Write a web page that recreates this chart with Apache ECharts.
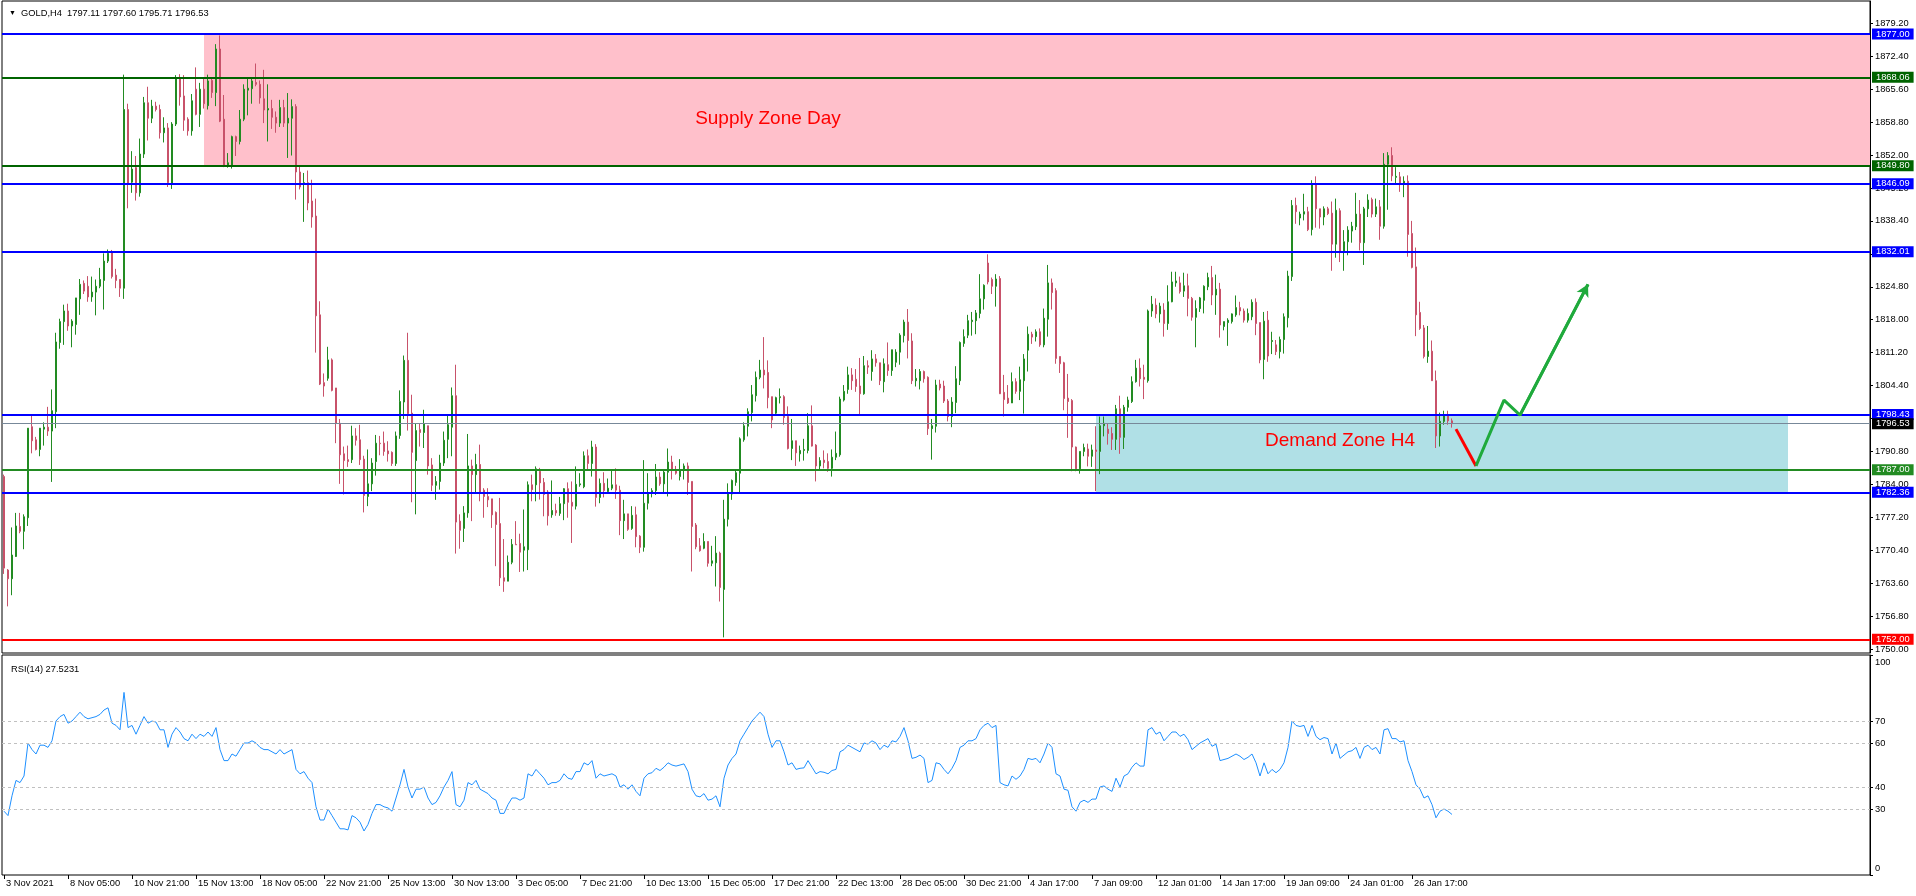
<!DOCTYPE html>
<html><head><meta charset="utf-8">
<script src="https://cdn.jsdelivr.net/npm/echarts@6/dist/echarts.min.js"></script>
<style>html,body{margin:0;padding:0;background:#fff}#c{width:1916px;height:896px}</style>
</head><body><div id="c"></div>
<script>
// ---------- DATA ----------
const opens=[1785.6,1766.3,1764.5,1769.1,1775.3,1774.3,1777.1,1795.9,1793.2,1791.2,1795.4,1795.8,1795.0,1799.0,1813.3,1817.6,1819.8,1816.7,1817.0,1822.3,1825.5,1824.9,1822.7,1823.7,1824.9,1826.1,1830.1,1831.9,1827.2,1826.3,
1824.5,1861.4,1846.4,1849.4,1844.2,1852.2,1862.8,1859.6,1862.1,1861.4,1856.6,1857.6,1846.2,1858.4,1868.0,1864.2,1859.4,1857.0,1865.6,1860.4,
1865.6,1862.2,1867.4,1864.9,1873.9,1859.4,1849.8,1849.8,1855.8,1854.8,1859.4,1865.4,1865.7,1867.0,1866.6,1863.6,1861.3,1861.6,1859.8,1858.6,
1861.8,1858.6,1859.6,1862.0,1848.5,1846.1,1846.3,1842.5,1839.4,1819.0,1805.0,1805.9,1809.7,1803.9,1796.6,1790.3,1789.1,1789.1,1794.0,1793.2,
1789.2,1781.5,1784.1,1788.7,1792.5,1792.5,1790.9,1790.6,1788.3,1794.1,1801.0,1809.6,1798.7,1788.9,1795.3,1794.7,1796.1,1788.0,1783.8,1784.6,
1788.4,1793.3,1795.8,1802.3,1776.4,1774.9,1778.1,1787.8,1786.0,1788.1,1782.8,1781.5,1781.0,1778.2,1775.9,1764.7,1764.0,1767.9,1771.6,1771.8,
1770.4,1770.5,1783.9,1783.9,1786.7,1784.4,1782.4,1777.7,1778.6,1778.0,1780.0,1783.1,1780.3,1779.5,1783.9,1783.5,1789.9,1788.3,1791.7,1781.3,
1784.2,1782.5,1783.2,1783.9,1782.8,1776.5,1777.9,1774.9,1777.7,1773.3,1771.0,1780.1,1782.4,1782.7,1785.5,1784.1,1786.5,1788.6,1787.0,1785.6,
1787.0,1787.8,1784.6,1775.6,1771.3,1770.8,1772.2,1767.7,1767.8,1769.8,1762.3,1776.8,1782.0,1784.4,1786.3,1793.2,1796.0,1798.8,1802.3,1806.1,
1807.6,1807.1,1802.1,1798.7,1801.9,1802.1,1798.0,1791.4,1793.0,1790.3,1791.0,1791.0,1796.1,1792.1,1787.8,1789.0,1788.7,1787.3,1789.6,1790.1,
1801.4,1803.6,1806.6,1805.7,1804.3,1802.7,1808.5,1807.3,1809.9,1809.1,1805.2,1808.7,1807.5,1809.2,1811.3,1814.7,1817.5,1813.6,1805.4,1805.4,
1807.3,1806.1,1795.5,1796.0,1804.7,1804.3,1801.2,1798.0,1800.9,1805.4,1813.1,1814.8,1817.6,1817.8,1819.3,1822.3,1829.7,1826.3,1824.9,1826.5,
1803.0,1801.8,1800.8,1805.2,1803.2,1805.4,1811.7,1815.0,1814.5,1815.5,1812.8,1818.1,1825.6,1824.0,1810.4,1809.1,1801.8,1801.3,1791.7,1787.2,
1790.8,1791.3,1789.8,1791.1,1790.8,1796.1,1795.4,1794.5,1793.3,1799.6,1793.7,1799.9,1801.1,1805.2,1808.0,1806.1,1805.4,1819.8,1821.0,1819.2,
1820.0,1817.2,1821.7,1825.6,1825.6,1823.9,1825.0,1822.4,1818.5,1820.3,1822.0,1824.8,1826.7,1823.1,1824.3,1816.6,1817.4,1817.6,1819.0,1820.5,
1819.8,1817.9,1818.6,1821.6,1817.4,1809.8,1817.9,1813.5,1812.8,1811.4,1813.9,1818.4,1826.9,1841.6,1839.0,1839.8,1840.3,1836.6,1845.9,1840.9,
1839.2,1840.9,1840.0,1833.6,1840.5,1832.0,1834.1,1836.3,1837.2,1839.8,1833.9,1840.9,1842.8,1839.8,1841.3,1837.3,1850.1,1851.9,1847.4,1847.5,
1846.1,1846.6,1835.8,1828.9,1819.5,1816.3,1810.4,1811.5,1805.4,1794.0,1797.0,1798.3,1797.11];
const highs=[1786.0,1766.5,1775.1,1778.1,1778.1,1777.8,1795.6,1798.3,1793.8,1795.6,1796.8,1800.0,1803.6,1815.3,1818.2,1821.1,1821.3,1818.1,1822.5,1826.4,1826.1,1827.0,1826.9,1826.3,1828.7,1831.7,1832.5,1832.4,1828.5,1826.3,
1868.6,1862.6,1852.8,1851.8,1855.4,1864.0,1866.1,1863.4,1863.0,1862.4,1859.8,1858.6,1858.8,1868.5,1868.7,1868.5,1859.8,1864.6,1870.1,1866.9,
1867.7,1868.6,1868.1,1874.9,1876.7,1864.4,1852.4,1856.0,1856.0,1861.3,1866.6,1867.8,1867.7,1870.9,1867.4,1869.6,1866.6,1863.4,1861.0,1863.4,
1863.4,1864.8,1863.5,1862.5,1849.9,1848.3,1848.8,1846.9,1843.0,1821.8,1806.9,1812.4,1810.0,1803.9,1797.5,1791.8,1792.0,1796.1,1795.6,1796.3,
1789.9,1791.2,1789.4,1794.2,1794.0,1794.9,1792.9,1790.8,1794.9,1803.4,1810.6,1815.3,1802.5,1796.6,1796.5,1799.4,1796.1,1789.4,1785.7,1790.1,
1794.9,1798.4,1804.0,1808.7,1777.8,1779.5,1794.4,1789.1,1790.3,1792.2,1783.2,1783.2,1781.0,1778.4,1781.2,1772.7,1769.3,1772.7,1776.4,1773.8,
1778.8,1784.6,1786.0,1787.7,1787.4,1785.3,1782.8,1784.8,1780.0,1781.4,1783.2,1784.4,1784.6,1787.7,1786.3,1790.8,1791.2,1793.0,1792.3,1785.2,
1786.5,1785.2,1787.0,1787.3,1783.7,1780.8,1777.9,1779.5,1779.4,1773.5,1789.0,1786.3,1783.2,1788.2,1786.5,1787.1,1791.4,1789.9,1787.8,1789.2,
1788.3,1788.5,1784.6,1776.0,1772.9,1773.9,1772.2,1771.3,1773.3,1770.1,1780.8,1784.2,1785.0,1787.0,1793.7,1796.8,1799.7,1804.5,1807.3,1809.7,
1814.4,1809.6,1802.1,1802.1,1803.8,1802.4,1800.1,1797.5,1793.0,1792.0,1793.4,1798.7,1800.3,1792.3,1789.6,1791.0,1790.4,1791.2,1794.9,1802.1,
1804.5,1808.3,1808.0,1807.8,1810.1,1810.5,1809.6,1811.7,1810.9,1809.1,1810.0,1813.3,1811.8,1811.9,1815.2,1818.0,1820.2,1815.2,1807.8,1807.8,
1807.5,1806.3,1797.5,1805.6,1805.6,1805.4,1801.6,1802.0,1808.4,1813.5,1816.0,1819.0,1819.6,1820.0,1827.4,1825.3,1831.5,1826.7,1827.4,1827.0,
1806.6,1804.5,1807.1,1805.9,1808.3,1810.9,1816.6,1815.5,1816.0,1816.2,1820.3,1829.3,1826.5,1824.5,1810.4,1809.3,1806.8,1801.6,1791.8,1790.8,
1792.4,1792.4,1792.2,1796.0,1798.0,1798.0,1796.6,1795.8,1800.4,1802.3,1800.4,1802.1,1806.3,1809.7,1810.0,1808.7,1820.1,1822.9,1822.4,1821.5,
1821.4,1825.1,1827.9,1827.9,1826.9,1827.7,1827.5,1822.7,1822.0,1822.7,1825.1,1827.7,1829.1,1827.3,1825.6,1817.6,1818.3,1819.3,1823.0,1821.7,
1820.3,1820.3,1822.2,1822.4,1817.4,1819.6,1819.8,1815.5,1813.8,1814.5,1819.3,1828.1,1842.7,1843.2,1840.3,1844.0,1841.3,1846.8,1847.6,1840.9,
1841.4,1841.3,1842.4,1843.0,1841.0,1836.5,1837.3,1838.2,1844.2,1842.7,1841.3,1843.9,1843.2,1843.0,1842.7,1852.4,1852.6,1853.6,1849.5,1848.5,
1847.6,1847.8,1838.4,1832.9,1821.7,1816.9,1816.7,1813.7,1807.5,1798.8,1799.2,1799.2,1797.60];
const lows=[1765.5,1758.8,1761.1,1769.0,1773.9,1770.6,1775.4,1790.4,1791.0,1789.8,1792.0,1794.0,1784.5,1795.6,1812.0,1812.8,1815.7,1812.3,1814.9,1819.0,1823.3,1821.7,1821.7,1818.9,1824.5,1820.1,1829.7,1826.5,1824.5,1822.7,
1822.3,1841.0,1844.2,1842.6,1843.4,1851.4,1855.0,1858.6,1861.0,1855.4,1854.6,1845.4,1845.0,1858.0,1862.2,1857.0,1856.0,1856.0,1860.2,1857.8,
1861.6,1861.4,1863.8,1862.1,1858.8,1849.5,1849.4,1849.2,1851.8,1854.2,1859.0,1860.2,1862.6,1866.2,1862.6,1858.6,1854.8,1857.4,1856.6,1857.8,
1857.8,1851.4,1851.9,1842.8,1844.9,1838.2,1840.6,1837.0,1811.2,1804.5,1802.1,1805.4,1803.2,1792.5,1784.1,1781.9,1787.6,1788.4,1792.0,1788.0,
1778.2,1779.5,1782.6,1785.8,1790.0,1789.9,1788.7,1787.8,1787.8,1793.4,1797.5,1795.1,1780.3,1777.8,1791.8,1791.5,1786.0,1782.6,1780.8,1782.9,
1787.8,1789.4,1789.8,1769.7,1770.7,1772.1,1777.1,1776.4,1782.2,1780.5,1777.1,1779.3,1775.0,1767.1,1763.0,1761.8,1764.0,1767.5,1771.5,1765.9,
1766.0,1766.3,1780.5,1780.5,1780.85,1777.4,1775.5,1777.1,1777.5,1777.5,1776.6,1777.1,1771.9,1778.8,1783.5,1783.2,1787.0,1785.6,1779.4,1780.1,
1781.3,1782.0,1782.8,1781.0,1773.5,1772.7,1774.4,1774.6,1771.0,1769.8,1770.1,1778.8,1781.3,1781.8,1783.7,1782.2,1781.5,1785.0,1786.0,1784.8,
1785.0,1781.8,1766.0,1770.6,1770.1,1770.6,1767.0,1767.1,1762.9,1759.8,1752.4,1775.3,1780.8,1783.7,1782.3,1792.8,1793.9,1797.0,1801.1,1805.7,
1803.8,1799.7,1795.6,1798.3,1800.7,1796.3,1791.2,1789.0,1787.8,1788.7,1788.9,1790.4,1791.8,1784.6,1787.1,1787.3,1786.6,1785.6,1789.0,1789.7,
1801.1,1802.7,1803.5,1803.1,1798.5,1802.5,1806.8,1805.4,1808.3,1804.5,1803.0,1806.4,1806.4,1808.2,1808.7,1813.3,1810.0,1804.7,1804.2,1803.6,
1805.0,1794.2,1789.1,1794.7,1803.4,1800.8,1797.0,1795.8,1798.7,1804.5,1812.4,1814.2,1814.7,1815.0,1818.3,1820.1,1825.3,1823.3,1820.7,1802.7,
1798.0,1800.6,1800.8,1802.7,1801.4,1798.6,1807.3,1813.0,1813.5,1812.4,1812.3,1814.5,1820.1,1808.9,1807.0,1799.3,1793.6,1786.7,1786.7,1786.2,
1789.8,1787.7,1787.6,1782.6,1786.1,1793.9,1792.2,1791.1,1791.1,1790.3,1791.3,1799.0,1800.8,1805.0,1804.2,1801.6,1805.0,1818.6,1818.3,1817.4,
1814.5,1815.9,1821.6,1824.8,1823.4,1822.7,1818.7,1817.8,1812.3,1819.6,1819.3,1824.1,1821.0,1819.0,1814.3,1815.8,1812.6,1817.2,1818.6,1818.9,
1817.4,1817.4,1817.9,1814.8,1809.0,1805.7,1809.3,1810.9,1810.7,1810.0,1811.0,1816.4,1826.0,1837.8,1837.5,1838.5,1836.3,1835.4,1837.0,1836.8,
1837.5,1839.6,1828.1,1830.8,1829.9,1828.1,1831.3,1833.9,1836.5,1832.3,1829.3,1839.2,1839.1,1839.2,1834.5,1836.8,1840.7,1846.6,1846.0,1844.4,
1843.3,1831.0,1828.6,1814.6,1815.9,1810.0,1809.1,1805.4,1791.5,1791.8,1796.3,1796.3,1795.71];
const closes=[1766.7,1764.5,1769.4,1775.4,1774.3,1777.3,1795.6,1793.0,1791.2,1795.6,1795.8,1795.0,1799.2,1813.4,1817.6,1819.8,1816.7,1817.7,1822.5,1825.3,1823.9,1822.7,1823.7,1824.9,1826.3,1830.1,1831.7,1826.9,1826.1,1824.5,
1861.4,1846.2,1849.1,1844.2,1852.2,1862.8,1859.6,1862.1,1861.4,1856.6,1857.6,1846.3,1858.4,1867.7,1864.0,1859.2,1857.0,1863.2,1860.4,1865.6,
1862.6,1867.3,1864.9,1873.9,1859.0,1849.8,1850.4,1855.8,1854.8,1859.4,1865.6,1865.8,1867.3,1866.6,1863.8,1861.3,1861.6,1859.8,1858.6,1861.8,
1858.6,1859.6,1862.0,1848.5,1845.4,1846.3,1842.1,1839.2,1818.8,1804.7,1804.3,1809.7,1803.4,1796.6,1790.1,1788.9,1788.7,1794.0,1793.1,1789.1,
1781.7,1784.1,1788.4,1792.5,1792.4,1790.8,1790.3,1788.3,1794.0,1801.1,1809.6,1798.6,1790.6,1795.1,1794.7,1796.5,1787.8,1783.8,1784.6,1788.4,
1793.1,1796.3,1802.3,1776.2,1774.5,1778.1,1787.8,1786.0,1788.1,1782.4,1781.5,1780.8,1777.7,1775.7,1764.7,1764.0,1767.9,1771.6,1771.5,1770.0,
1771.1,1783.9,1782.9,1787.2,1784.3,1781.9,1777.5,1778.6,1778.1,1780.0,1783.1,1780.3,1779.5,1784.0,1784.1,1789.9,1788.3,1791.7,1781.3,1784.2,
1782.7,1783.2,1783.9,1782.8,1776.5,1777.9,1774.7,1777.6,1773.2,1771.0,1780.1,1782.0,1782.7,1785.5,1784.1,1786.5,1788.6,1787.0,1786.3,1787.0,
1787.8,1784.4,1775.3,1771.1,1770.3,1772.2,1767.7,1768.2,1769.8,1762.7,1776.8,1782.0,1784.8,1786.4,1793.4,1796.1,1799.0,1802.5,1806.1,1807.6,
1806.6,1801.9,1797.3,1801.9,1802.1,1797.8,1791.4,1793.0,1790.5,1791.0,1791.2,1796.1,1791.9,1787.8,1788.9,1788.5,1787.3,1789.6,1790.4,1801.6,
1803.2,1806.6,1805.4,1804.2,1802.7,1808.5,1808.2,1809.9,1809.1,1805.4,1808.9,1807.5,1811.8,1811.3,1814.8,1817.5,1813.7,1805.4,1805.9,1807.3,
1805.8,1795.5,1796.1,1804.5,1803.9,1801.2,1798.0,1801.0,1805.8,1813.3,1814.5,1817.8,1817.9,1819.4,1822.3,1825.1,1825.8,1824.9,1826.4,1802.7,
1801.5,1800.8,1805.2,1803.2,1805.6,1809.9,1815.0,1814.4,1815.5,1812.8,1818.3,1825.6,1823.6,1810.0,1808.9,1801.7,1801.1,1791.7,1787.2,1790.8,
1791.6,1789.8,1791.1,1790.8,1796.1,1796.6,1794.5,1793.3,1799.6,1793.7,1799.9,1801.4,1805.2,1808.0,1805.8,1805.7,1819.8,1821.2,1819.2,1820.8,
1817.2,1821.7,1825.8,1826.0,1823.8,1825.0,1822.4,1818.5,1820.3,1822.5,1824.9,1826.7,1823.1,1824.3,1816.9,1817.6,1817.9,1819.2,1820.5,1819.8,
1817.9,1819.3,1821.6,1817.2,1809.7,1817.7,1810.5,1813.7,1811.4,1813.9,1818.6,1827.0,1841.6,1840.3,1839.8,1840.3,1836.6,1845.9,1840.9,1839.2,
1840.9,1839.9,1833.6,1840.6,1832.0,1834.1,1836.5,1837.3,1839.8,1833.9,1840.9,1842.7,1839.8,1841.3,1837.3,1850.1,1851.9,1847.7,1847.6,1846.1,
1846.6,1835.6,1828.8,1819.0,1816.2,1810.4,1811.5,1805.4,1794.0,1797.0,1798.3,1797.1,1796.53];
const rsiValues=[29,27,36,43,42,45,60,57,55,59,59,58,61,70,72,73,69,70,72,74,72,71,71.5,72,73,75,76,69,68,66,
83,67,68,64,68,72,69,70,69.5,66,66,58,64,67,65,62,61,64,62,64,63,65,63,67,57,52,52,55,54,57,
60,60,61,60,58,57,57,56,55,57,55,56,57,48,46,47,44,42,31,25,25,30,27,24,21,21,20.5,27,26,24,
20,23,28,32,32,31,30.5,29,35,41,48,40,35,39,39,40,35,32,33,36,40,43,47,32,31,34,42,41,43,39,
38,37,35,34,28,28,32,35,35,34,35,46,45,48,46,44,41,42,42,43,46,44,43.5,47,47,51,50,52,44,46,
45,45.5,46,45,40,41,39,41,38,36,44,46,46.5,48.5,47.5,49,51,50,49.5,50,50.5,47,39,36,35.5,37,34,34.5,36,31,
44,50,53,55,61,64,67,70,72,74,72,64,58,61,61,56,50,51,48,48.5,48.7,52,49,46,47,46.7,46,47.5,48,56,
57,59,58,57,56,60,59.5,61,60,57,59,58,61,60.5,63,67,61,53,53.5,54.5,53,42,43,51,50.5,48,46,48.5,52,58,
59,61,61,62,66,68,69,67,68,42,41,40.5,45,43.5,45,48,53,52.5,53,51,55,60,58,46,45,39,38.5,31,29,33,
34,33,34.5,34.5,40,40.5,39,38,44,40,45,46,49,51,49.5,49.5,66,67,64,65,61,63,65,65,63,64,61.5,57,58.5,60,
61,62,58.5,59.5,52,52.5,53,54,55,54,52.5,53.5,55,51,45,51,46,48,46.5,48,51,58,70,68,67.5,68,63,68,63,61.5,
62.5,62,55,60,53,54.5,56,56.5,58,53,58,59,57,58,55,66,66.5,62,62,60.5,61,52,47,41,39,35,36,32,26,29,30,29,27.5231];
const timeLabels=['3 Nov 2021','8 Nov 05:00','10 Nov 21:00','15 Nov 13:00','18 Nov 05:00','22 Nov 21:00','25 Nov 13:00','30 Nov 13:00','3 Dec 05:00','7 Dec 21:00','10 Dec 13:00','15 Dec 05:00','17 Dec 21:00','22 Dec 13:00','28 Dec 05:00','30 Dec 21:00','4 Jan 17:00','7 Jan 09:00','12 Jan 01:00','14 Jan 17:00','19 Jan 09:00','24 Jan 01:00','26 Jan 17:00'];
const priceTicks=[1750.00,1756.80,1763.60,1770.40,1777.20,1784.00,1790.80,1797.60,1804.40,1811.20,1818.00,1824.80,1831.60,1838.40,1845.20,1852.00,1858.80,1865.60,1872.40,1879.20];
const rsiTicks=[0,30,40,60,70,100];
const rsiLevels=[70,60,40,30];
const levelPrices=[1877.00,1868.06,1849.80,1846.09,1832.01,1798.43,1796.53,1787.00,1782.36,1752.00];
const levelKinds=['blue','dkgreen','dkgreen','blue','blue','blue','bid','green','blue','red'];
const supplyZone={fromBar:50,low:1849.80,high:1877.00,text:'Supply Zone Day',textBar:191,textPrice:1859.5};
const demandZone={fromBar:273,toBar:446,low:1782.36,high:1798.43,text:'Demand Zone H4',textBar:334,textPrice:1793.0};
const downArrow=[[363,1795.4],[368,1787.8]];
const upArrow=[[368,1787.8],[375,1801.4],[379,1798.3],[396,1825.3]];

// ---------- STYLES ----------
const FONT='Liberation Sans';
const kindStyle={
  blue:{line:'#0000FF',tag:'#0000FF',w:2},
  dkgreen:{line:'#006400',tag:'#006400',w:2},
  green:{line:'#228B22',tag:'#228B22',w:2},
  red:{line:'#FF0000',tag:'#FF0000',w:2},
  bid:{line:'#778899',tag:'#000000',w:1}
};
const TOTAL_SLOTS=467;
const cats=Array.from({length:TOTAL_SLOTS},(_,i)=>'b'+i);
const candleData=opens.map((o,i)=>[o,closes[i],lows[i],highs[i]]);
const lastI=opens.length-1;
const header=[opens[lastI],highs[lastI],lows[lastI],closes[lastI]].map(v=>v.toFixed(2)).join(' ');
const rsiCaption='RSI(14) '+rsiValues[rsiValues.length-1].toFixed(4);
const labelIv=i=>i%16===0 && i/16<timeLabels.length;

const chart=echarts.init(document.getElementById('c'),null,{renderer:'canvas'});
chart.setOption({
  animation:false,
  backgroundColor:'#fff',
  textStyle:{fontFamily:FONT},
  title:[
    {text:'{t|▼}  GOLD,H4  '+header,left:4,top:4,textStyle:{fontFamily:FONT,fontSize:9.3,fontWeight:'normal',color:'#000',rich:{t:{fontSize:7,color:'#000'}}}},
    {text:rsiCaption,left:6,top:660,textStyle:{fontFamily:FONT,fontSize:9.3,fontWeight:'normal',color:'#000'}}
  ],
  grid:[
    {left:2,right:46,top:1,height:652,show:true,borderColor:'#000',borderWidth:1,backgroundColor:'transparent'},
    {left:2,right:46,top:655,height:220,show:true,borderColor:'#000',borderWidth:1,backgroundColor:'transparent'}
  ],
  xAxis:[
    {type:'category',gridIndex:0,data:cats,boundaryGap:true,axisLine:{show:false},axisTick:{show:false},axisLabel:{show:false},splitLine:{show:false}},
    {type:'category',gridIndex:1,data:cats,boundaryGap:true,axisLine:{show:false},
     axisTick:{show:true,interval:labelIv,alignWithLabel:true,length:4,lineStyle:{color:'#000'}},
     axisLabel:{show:true,interval:labelIv,formatter:(v,i)=>timeLabels[i/16],align:'left',padding:[0,0,0,2],margin:4,fontSize:9.3,fontFamily:FONT,color:'#000'},
     splitLine:{show:false}}
  ],
  yAxis:[
    {type:'value',gridIndex:0,position:'right',min:1749.17,max:1883.81,scale:true,
     axisLine:{show:true,lineStyle:{color:'#000'}},
     axisTick:{show:true,length:3,customValues:priceTicks,lineStyle:{color:'#000'}},
     axisLabel:{show:true,customValues:priceTicks,formatter:v=>v.toFixed(2),margin:5,fontSize:9.3,fontFamily:FONT,color:'#000'},
     splitLine:{show:false}},
    {type:'value',gridIndex:1,position:'right',min:0,max:100,
     axisLine:{show:true,lineStyle:{color:'#000'}},
     axisTick:{show:true,length:3,customValues:rsiTicks,lineStyle:{color:'#000'}},
     axisLabel:{show:true,customValues:rsiTicks,margin:5,fontSize:9.3,fontFamily:FONT,color:'#000',
       formatter:v=>v===100?'{a|100}':(v===0?'{b|0}':String(v)),
       rich:{a:{padding:[15,0,0,0],fontSize:9.3,fontFamily:FONT},b:{padding:[0,0,14,0],fontSize:9.3,fontFamily:FONT}}},
     splitLine:{show:false}}
  ],
  series:[
    {name:'zones',type:'line',xAxisIndex:0,yAxisIndex:0,data:[],z:1,silent:true,
     markArea:{silent:true,data:[
       [{xAxis:supplyZone.fromBar,yAxis:supplyZone.high,itemStyle:{color:'#FFC0CB'}},{yAxis:supplyZone.low}],
       [{xAxis:demandZone.fromBar,yAxis:demandZone.high,itemStyle:{color:'#B0E0E6'}},{xAxis:demandZone.toBar,yAxis:demandZone.low}]
     ]}},
    {name:'GOLD',type:'candlestick',xAxisIndex:0,yAxisIndex:0,data:candleData,barWidth:2,z:2,
     itemStyle:{color:'#228B22',color0:'#C8526A',borderColor:'#228B22',borderColor0:'#C8526A',borderWidth:1}},
    {name:'levels',type:'line',xAxisIndex:0,yAxisIndex:0,data:[],z:4,silent:true,clip:false,
     markLine:{silent:true,symbol:['none','none'],animation:false,
       data:levelPrices.map((p,k)=>{const s=kindStyle[levelKinds[k]];return {yAxis:p,
         lineStyle:{color:s.line,width:s.w,type:'solid'},
         label:{show:true,position:'end',distance:2,formatter:p.toFixed(2),color:'#fff',backgroundColor:s.tag,
           padding:[1,4,0,4],fontSize:9.3,fontFamily:FONT,lineHeight:10}};})}},
    {name:'down',type:'line',xAxisIndex:0,yAxisIndex:0,data:downArrow,showSymbol:false,symbol:'none',z:5,silent:true,
     lineStyle:{color:'#FF0000',width:3}},
    {name:'up',type:'line',xAxisIndex:0,yAxisIndex:0,data:upArrow,showSymbol:false,symbol:'none',z:5,silent:true,
     lineStyle:{color:'#1FAA3C',width:3},
     markLine:{silent:true,symbol:['none','arrow'],symbolSize:[10,12],lineStyle:{color:'#1FAA3C',width:3,type:'solid'},label:{show:false},
       data:[[{coord:upArrow[upArrow.length-2]},{coord:upArrow[upArrow.length-1]}]]}},
    {name:'texts',type:'line',xAxisIndex:0,yAxisIndex:0,data:[],z:6,silent:true,
     markPoint:{silent:true,symbol:'circle',symbolSize:0,
       data:[
        {coord:[supplyZone.textBar,supplyZone.textPrice],label:{show:true,formatter:supplyZone.text,color:'#FF0000',fontSize:19,fontFamily:FONT,position:'inside'}},
        {coord:[demandZone.textBar,demandZone.textPrice],label:{show:true,formatter:demandZone.text,color:'#FF0000',fontSize:19,fontFamily:FONT,position:'inside'}}
       ]}},
    {name:'RSI',type:'line',xAxisIndex:1,yAxisIndex:1,data:rsiValues,showSymbol:false,symbol:'none',z:3,
     lineStyle:{color:'#1E90FF',width:1},
     markLine:{silent:true,symbol:['none','none'],label:{show:false},lineStyle:{color:'#C0C0C0',type:[3,3],width:1},
       data:rsiLevels.map(v=>({yAxis:v}))}}
  ]
});
</script></body></html>
